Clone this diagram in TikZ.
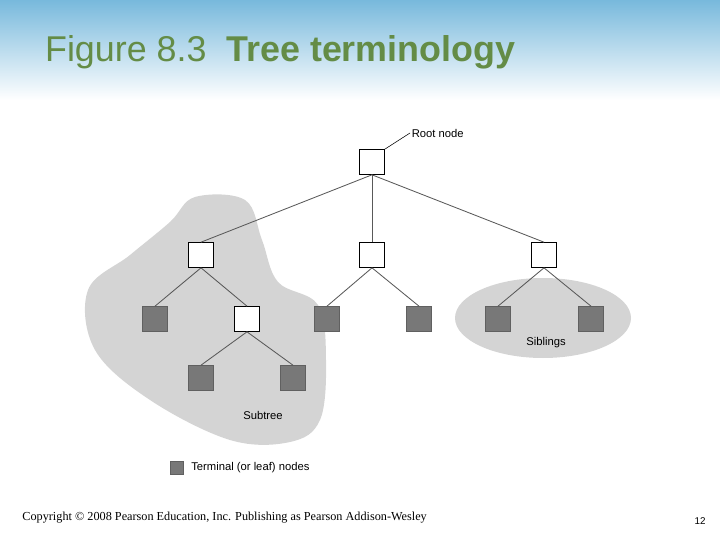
\documentclass[tikz,border=0pt]{standalone}
\usepackage{fontspec}
\setmainfont{Liberation Sans}
\newfontfamily\serifcopy{Liberation Serif}
\usetikzlibrary{arrows}
\definecolor{titlegreen}{RGB}{100,140,70}
\definecolor{topblue}{RGB}{120,185,220}
\definecolor{leafgray}{RGB}{120,120,120}
\definecolor{blobgray}{RGB}{212,212,212}

\begin{document}
\begin{tikzpicture}[x=0.25mm,y=-0.25mm,semithick,
    inner node/.style={rectangle,draw,fill=white,minimum size=6.2mm,inner sep=0pt},
    leaf node/.style={rectangle,draw=leafgray!80!black,fill=leafgray,minimum size=6.2mm,inner sep=0pt},
    tag/.style={font=\footnotesize,inner sep=1pt}]
    \useasboundingbox (0,0) rectangle (720,540);
    \shade[top color=topblue,bottom color=white] (0,0) rectangle (720,100);
    \node[anchor=west,font=\fontsize{25.5}{30}\selectfont,text=titlegreen] (title) at (40,52)
      {Figure 8.3\ \ \textbf{Tree terminology}};
    % shaded regions
    \fill[blobgray] plot[smooth cycle,tension=0.6] coordinates {(195,197) (245,200) (262,240)
      (278,282) (318,305) (326,360) (320,420) (290,442) (230,440) (150,400) (95,350)
      (88,290) (130,255) (170,222)};
    \fill[blobgray] (543,318) ellipse [x radius=88,y radius=40];
    % tree
    \node[inner node] (r) at (372,162) {};
    \node[inner node] (a) at (201,255) {};
    \node[inner node] (b) at (372,255) {};
    \node[inner node] (c) at (544,255) {};
    \node[leaf node] (a1) at (155,319) {};
    \node[inner node] (a2) at (247,319) {};
    \node[leaf node] (b1) at (327,319) {};
    \node[leaf node] (b2) at (419,319) {};
    \node[leaf node] (c1) at (498,319) {};
    \node[leaf node] (c2) at (591,319) {};
    \node[leaf node] (d1) at (201,378) {};
    \node[leaf node] (d2) at (293,378) {};
    \path[draw=black!65]
    (r.south) edge (a.north) edge (b.north) edge (c.north)
    (a.south) edge (a1.north) edge (a2.north)
    (b.south) edge (b1.north) edge (b2.north)
    (c.south) edge (c1.north) edge (c2.north)
    (a2.south) edge (d1.north) edge (d2.north);
    % labels
    \node[tag,anchor=west] (rootlbl) at (410,133) {Root node};
    \draw[thin] (rootlbl.west) -- (r.north east);
    \node[tag] (sib) at (546,343) {Siblings};
    \node[tag] (sub) at (263,415) {Subtree};
    \node[leaf node,minimum size=3.2mm] (key) at (177,468) {};
    \node[tag,anchor=west,xshift=4pt] (keylbl) at (key.east) {Terminal (or leaf) nodes};
    % footer
    \node[anchor=west,font=\serifcopy\fontsize{8.7}{10}\selectfont,inner sep=0pt] (copy) at (22,518)
      {Copyright © 2008 Pearson Education, Inc. Publishing as Pearson Addison-Wesley};
    \node[font=\scriptsize] (page) at (700,521) {12};
\end{tikzpicture}
\end{document}
